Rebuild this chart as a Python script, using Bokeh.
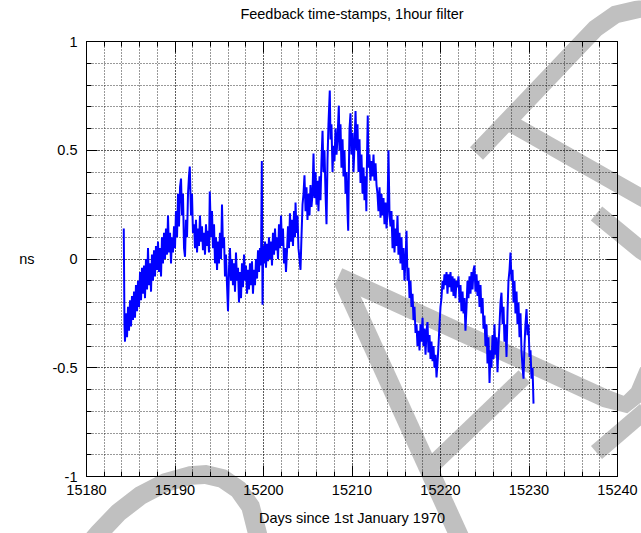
import numpy as np
from bokeh.plotting import figure
from bokeh.layouts import column
from bokeh.models import (Range1d, SingleIntervalTicker, LinearAxis, Grid,
                          PrintfTickFormatter, CustomLabelingPolicy)
from bokeh.embed import file_html
from bokeh.resources import INLINE

# Feedback time-stamp offset (ns) against days since 1970-01-01
day = [
    15184.21, 15184.29, 15184.35, 15184.46, 15184.58, 15184.69, 15184.80, 15184.92, 15185.03, 15185.14,
    15185.25, 15185.37, 15185.48, 15185.59, 15185.71, 15185.82, 15185.93, 15186.05, 15186.16, 15186.27,
    15186.38, 15186.50, 15186.61, 15186.72, 15186.84, 15186.95, 15187.06, 15187.18, 15187.29, 15187.40,
    15187.51, 15187.63, 15187.74, 15187.85, 15187.97, 15188.08, 15188.19, 15188.31, 15188.42, 15188.53,
    15188.64, 15188.76, 15188.87, 15188.98, 15189.10, 15189.21, 15189.32, 15189.44, 15189.55, 15189.66,
    15189.77, 15189.89, 15190.00, 15190.11, 15190.23, 15190.34, 15190.45, 15190.57, 15190.68, 15190.79,
    15190.90, 15191.02, 15191.13, 15191.24, 15191.36, 15191.47, 15191.58, 15191.67, 15191.81, 15191.92,
    15192.03, 15192.15, 15192.26, 15192.37, 15192.49, 15192.60, 15192.71, 15192.82, 15192.94, 15193.05,
    15193.16, 15193.28, 15193.39, 15193.50, 15193.62, 15193.73, 15193.84, 15193.93, 15194.07, 15194.18,
    15194.29, 15194.41, 15194.52, 15194.63, 15194.75, 15194.86, 15194.97, 15195.08, 15195.20, 15195.31,
    15195.42, 15195.54, 15195.65, 15195.76, 15195.88, 15195.99, 15196.10, 15196.21, 15196.33, 15196.44,
    15196.55, 15196.67, 15196.78, 15196.89, 15197.01, 15197.12, 15197.23, 15197.34, 15197.46, 15197.57,
    15197.68, 15197.80, 15197.91, 15198.02, 15198.14, 15198.25, 15198.36, 15198.47, 15198.59, 15198.70,
    15198.81, 15198.93, 15199.04, 15199.15, 15199.27, 15199.38, 15199.49, 15199.60, 15199.72, 15199.81,
    15199.89, 15199.97, 15200.06, 15200.17, 15200.28, 15200.40, 15200.51, 15200.62, 15200.73, 15200.85,
    15200.96, 15201.07, 15201.19, 15201.30, 15201.41, 15201.53, 15201.64, 15201.75, 15201.86, 15201.98,
    15202.09, 15202.20, 15202.32, 15202.43, 15202.54, 15202.66, 15202.77, 15202.88, 15202.99, 15203.11,
    15203.22, 15203.33, 15203.45, 15203.56, 15203.62, 15203.73, 15203.84, 15203.95, 15204.07, 15204.18,
    15204.29, 15204.41, 15204.52, 15204.63, 15204.75, 15204.86, 15204.97, 15205.08, 15205.20, 15205.31,
    15205.42, 15205.54, 15205.65, 15205.76, 15205.88, 15205.99, 15206.10, 15206.21, 15206.33, 15206.44,
    15206.55, 15206.67, 15206.78, 15206.89, 15207.01, 15207.12, 15207.23, 15207.34, 15207.49, 15207.57,
    15207.68, 15207.80, 15207.91, 15208.02, 15208.14, 15208.25, 15208.36, 15208.51, 15208.59, 15208.70,
    15208.81, 15208.93, 15209.04, 15209.15, 15209.27, 15209.38, 15209.49, 15209.57, 15209.66, 15209.72,
    15209.83, 15209.94, 15210.06, 15210.17, 15210.28, 15210.40, 15210.51, 15210.62, 15210.73, 15210.85,
    15210.96, 15211.07, 15211.19, 15211.30, 15211.41, 15211.53, 15211.62, 15211.69, 15211.78, 15211.86,
    15211.97, 15212.09, 15212.20, 15212.32, 15212.43, 15212.54, 15212.66, 15212.77, 15212.88, 15212.99,
    15213.11, 15213.22, 15213.33, 15213.45, 15213.56, 15213.67, 15213.79, 15213.90, 15214.01, 15214.12,
    15214.24, 15214.35, 15214.46, 15214.58, 15214.69, 15214.80, 15214.92, 15215.03, 15215.14, 15215.25,
    15215.37, 15215.48, 15215.59, 15215.71, 15215.82, 15215.93, 15216.05, 15216.16, 15216.27, 15216.38,
    15216.50, 15216.61, 15216.72, 15216.84, 15216.95, 15217.06, 15217.18, 15217.29, 15217.40, 15217.51,
    15217.63, 15217.74, 15217.85, 15217.97, 15218.08, 15218.19, 15218.31, 15218.42, 15218.53, 15218.64,
    15218.76, 15218.87, 15218.98, 15219.10, 15219.21, 15219.32, 15219.44, 15219.55, 15219.66, 15219.77,
    15219.89, 15220.00, 15220.11, 15220.23, 15220.34, 15220.45, 15220.56, 15220.68, 15220.79, 15220.90,
    15221.02, 15221.13, 15221.24, 15221.36, 15221.47, 15221.58, 15221.69, 15221.81, 15221.92, 15222.03,
    15222.15, 15222.26, 15222.37, 15222.49, 15222.60, 15222.71, 15222.82, 15222.94, 15223.05, 15223.16,
    15223.28, 15223.39, 15223.50, 15223.62, 15223.73, 15223.84, 15223.95, 15224.07, 15224.18, 15224.29,
    15224.41, 15224.52, 15224.63, 15224.75, 15224.86, 15224.97, 15225.08, 15225.20, 15225.31, 15225.42,
    15225.54, 15225.65, 15225.76, 15225.88, 15225.99, 15226.10, 15226.21, 15226.33, 15226.44, 15226.55,
    15226.67, 15226.78, 15226.89, 15227.01, 15227.12, 15227.23, 15227.34, 15227.46, 15227.57, 15227.68,
    15227.80, 15227.91, 15228.02, 15228.14, 15228.25, 15228.36, 15228.47, 15228.59, 15228.70, 15228.81,
    15228.93, 15229.04, 15229.15, 15229.27, 15229.38, 15229.49, 15229.60, 15229.72, 15229.83, 15229.94,
    15230.06, 15230.17, 15230.28, 15230.40, 15230.51,
]
offset_ns = [
    0.14, -0.30, -0.38, -0.25, -0.36, -0.22, -0.33, -0.19, -0.31, -0.17,
    -0.28, -0.15, -0.27, -0.12, -0.24, -0.10, -0.22, -0.06, -0.19, -0.04,
    -0.16, -0.03, -0.18, 0.00, -0.14, 0.05, -0.12, -0.02, -0.15, 0.02,
    -0.10, 0.04, -0.08, 0.06, -0.05, 0.08, -0.06, 0.05, -0.08, 0.10,
    -0.02, 0.12, 0.00, 0.14, 0.02, 0.20, 0.03, 0.12, -0.02, 0.10,
    0.03, 0.15, 0.05, 0.22, 0.10, 0.30, 0.15, 0.33, 0.37, 0.20,
    0.30, 0.05, 0.01, 0.18, 0.10, 0.30, 0.38, 0.425, 0.20, 0.30,
    0.12, 0.16, 0.05, 0.18, 0.03, 0.14, 0.06, 0.20, 0.08, 0.15,
    0.04, 0.12, 0.02, 0.16, 0.06, 0.13, 0.03, 0.31, 0.10, 0.22,
    0.05, 0.16, -0.02, 0.10, -0.05, 0.08, -0.02, 0.12, 0.00, 0.25,
    0.05, 0.10, -0.08, 0.02, -0.12, -0.24, -0.05, 0.05, -0.10, 0.00,
    -0.12, -0.02, -0.15, 0.03, -0.10, -0.04, -0.20, -0.06, -0.18, -0.02,
    -0.13, 0.02, -0.10, -0.03, -0.16, -0.05, -0.14, -0.02, -0.12, -0.01,
    -0.16, -0.05, -0.12, 0.00, -0.09, 0.04, -0.06, 0.05, -0.03, 0.45,
    -0.21, 0.06, -0.02, 0.08, -0.04, 0.07, -0.01, 0.10, 0.00, 0.08,
    -0.03, 0.12, 0.02, 0.14, 0.04, 0.10, 0.00, 0.16, 0.05, 0.20,
    0.06, 0.14, -0.02, 0.05, -0.06, 0.04, 0.15, 0.05, 0.21, 0.08,
    0.18, 0.06, 0.22, 0.10, 0.26, 0.12, 0.20, 0.05, 0.00, -0.05,
    0.10, 0.25, 0.30, 0.385, 0.22, 0.33, 0.18, 0.30, 0.20, 0.34,
    0.24, 0.30, 0.485, 0.28, 0.40, 0.25, 0.36, 0.22, 0.38, 0.27,
    0.45, 0.59, 0.40, 0.50, 0.30, 0.16, 0.45, 0.62, 0.775, 0.55,
    0.62, 0.40, 0.52, 0.45, 0.60, 0.48, 0.55, 0.705, 0.50, 0.62,
    0.42, 0.55, 0.38, 0.50, 0.30, 0.40, 0.22, 0.13, 0.45, 0.60,
    0.67, 0.48, 0.58, 0.40, 0.52, 0.68, 0.50, 0.62, 0.40, 0.55,
    0.35, 0.48, 0.30, 0.42, 0.27, 0.38, 0.22, 0.45, 0.66, 0.42,
    0.48, 0.36, 0.45, 0.38, 0.48, 0.36, 0.44, 0.34, 0.30, 0.22,
    0.33, 0.19, 0.30, 0.20, 0.28, 0.16, 0.26, 0.14, 0.22, 0.50,
    0.20, 0.15, 0.22, 0.05, 0.18, 0.03, 0.14, 0.06, 0.20, 0.02,
    0.12, -0.02, 0.10, -0.05, 0.05, -0.10, 0.00, 0.13, -0.10, -0.04,
    -0.18, -0.10, -0.22, -0.16, -0.28, -0.22, -0.34, -0.30, -0.40, -0.33,
    -0.42, -0.30, -0.38, -0.27, -0.40, -0.32, -0.44, -0.33, -0.29, -0.43,
    -0.35, -0.46, -0.38, -0.47, -0.40, -0.50, -0.44, -0.545, -0.48, -0.40,
    -0.30, -0.22, -0.18, -0.10, -0.14, -0.07, -0.12, -0.06, -0.16, -0.07,
    -0.13, -0.06, -0.15, -0.08, -0.17, -0.09, -0.18, -0.10, -0.13, -0.08,
    -0.20, -0.12, -0.24, -0.15, -0.25, -0.18, -0.33, -0.22, -0.10, -0.18,
    -0.08, -0.16, -0.06, -0.14, -0.05, -0.03, -0.15, -0.07, -0.17, -0.10,
    -0.22, -0.12, -0.25, -0.18, -0.32, -0.26, -0.40, -0.30, -0.48, -0.36,
    -0.57, -0.42, -0.50, -0.35, -0.46, -0.30, -0.44, -0.36, -0.52, -0.40,
    -0.30, -0.20, -0.155, -0.30, -0.22, -0.38, -0.30, -0.45, -0.25, -0.10,
    -0.05, 0.03, -0.10, -0.05, -0.20, -0.10, -0.25, -0.15, -0.30, -0.20,
    -0.36, -0.25, -0.42, -0.50, -0.55, -0.40, -0.30, -0.23, -0.35, -0.30,
    -0.45, -0.42, -0.55, -0.50, -0.665,
]

FONT = "Liberation Sans"
FS = "14.5px"
W, H = 641, 533

# ---- background layer: grey emblem strokes, in page pixels (y downwards)
strokes = [
    ([(476, 153), (595, 28), (615, 14), (641, 8), (665, 8)], 18),
    ([(510, 123), (641, 197), (660, 208)], 17),
    ([(596, 213), (641, 250), (660, 262)], 18),
    ([(338, 276), (605, 398), (625, 404), (638, 393), (648, 370)], 18),
    ([(596, 452), (645, 410)], 17),
    ([(342, 279), (463, 545)], 19),
    ([(428, 468), (524, 376)], 17),
    ([(85, 548), (98, 533), (118, 512), (140, 495), (165, 482), (190, 475), (205, 474),
      (222, 478), (238, 489), (250, 506), (257, 533), (260, 548)], 19),
]


def band(points, w):
    pts = np.array(points, dtype=float)
    n = len(pts)
    left, right = [], []
    for i in range(n):
        if i == 0:
            d = pts[1] - pts[0]
        elif i == n - 1:
            d = pts[-1] - pts[-2]
        else:
            d1 = pts[i] - pts[i - 1]
            d2 = pts[i + 1] - pts[i]
            d = d1 / np.linalg.norm(d1) + d2 / np.linalg.norm(d2)
        d = d / np.linalg.norm(d)
        nrm = np.array([-d[1], d[0]])
        left.append(pts[i] + nrm * w / 2)
        right.append(pts[i] - nrm * w / 2)
    poly = left + right[::-1]
    return [float(q[0]) for q in poly], [float(q[1]) for q in poly]


bg = figure(width=W, height=H, output_backend="svg", toolbar_location=None, title=None,
            x_range=Range1d(0, W), y_range=Range1d(H, 0),
            x_axis_type=None, y_axis_type=None,
            min_border=0, min_border_left=0, min_border_right=0,
            min_border_top=0, min_border_bottom=0,
            background_fill_color="white", border_fill_color="white")
bg.outline_line_color = None
bg.frame_align = False
for pts, w in strokes:
    xs, ys = band(pts, w)
    bg.patch(xs, ys, fill_color="#c0c0c0", line_color=None)

# ---- the chart itself, transparent so the emblem shows through
p = figure(width=W, height=H, output_backend="svg", toolbar_location=None, title=None,
           x_range=Range1d(15180, 15240), y_range=Range1d(-1, 1),
           x_axis_type=None, y_axis_type=None,
           min_border_left=86, min_border_right=24, min_border_top=41, min_border_bottom=57,
           background_fill_color=None, border_fill_color=None)
p.frame_align = False
p.margin = (-H, 0, 0, 0)
p.outline_line_color = "black"
p.outline_line_width = 1

xticker = SingleIntervalTicker(interval=10, num_minor_ticks=5)
yticker = SingleIntervalTicker(interval=0.5, num_minor_ticks=5)

no_labels = CustomLabelingPolicy(
    code="for (let i = 0; i < indices.size; i++) indices.unset(i)\nreturn indices")


def style_axis(ax, show_labels):
    ax.axis_line_color = "black"
    ax.major_tick_in = 11
    ax.major_tick_out = 0
    ax.minor_tick_in = 5
    ax.minor_tick_out = 0
    ax.major_tick_line_color = "black"
    ax.minor_tick_line_color = "black"
    ax.major_label_text_font = FONT
    ax.major_label_text_color = "black"
    ax.axis_label_text_font = FONT
    ax.axis_label_text_font_size = FS
    ax.axis_label_text_font_style = "normal"
    ax.axis_label_text_color = "black"
    if show_labels:
        ax.major_label_text_font_size = FS
    else:
        ax.major_label_text_font_size = "0px"
        ax.major_label_standoff = 0
        ax.major_label_policy = no_labels


xaxis = LinearAxis(ticker=xticker, formatter=PrintfTickFormatter(format="%d"),
                   axis_label="Days since 1st January 1970")
style_axis(xaxis, True)
xaxis.major_label_standoff = 8
xaxis.axis_label_standoff = 12
p.add_layout(xaxis, "below")

yaxis = LinearAxis(ticker=yticker, formatter=PrintfTickFormatter(format="%g"),
                   axis_label="ns")
style_axis(yaxis, True)
yaxis.major_label_standoff = 9
yaxis.axis_label_standoff = 15
yaxis.axis_label_orientation = "horizontal"
p.add_layout(yaxis, "left")

# mirrored tick marks along the top edge; the heading sits on this axis
xtop = LinearAxis(ticker=xticker, axis_label="Feedback time-stamps, 1hour filter")
style_axis(xtop, False)
xtop.axis_label_standoff = 20
p.add_layout(xtop, "above")

yright = LinearAxis(ticker=yticker)
style_axis(yright, False)
p.add_layout(yright, "right")

for dim, tk in ((0, xticker), (1, yticker)):
    g = Grid(dimension=dim, ticker=tk,
             grid_line_color="black", grid_line_dash="1 2", grid_line_width=1,
             grid_line_alpha=0.8,
             minor_grid_line_color="black", minor_grid_line_dash="1 2",
             minor_grid_line_width=1, minor_grid_line_alpha=0.8)
    p.add_layout(g, "center")

p.line(day, offset_ns, line_color="#0000ff", line_width=2)

page = column(bg, p, spacing=0)
open("out.html", "w").write(file_html(page, INLINE))
